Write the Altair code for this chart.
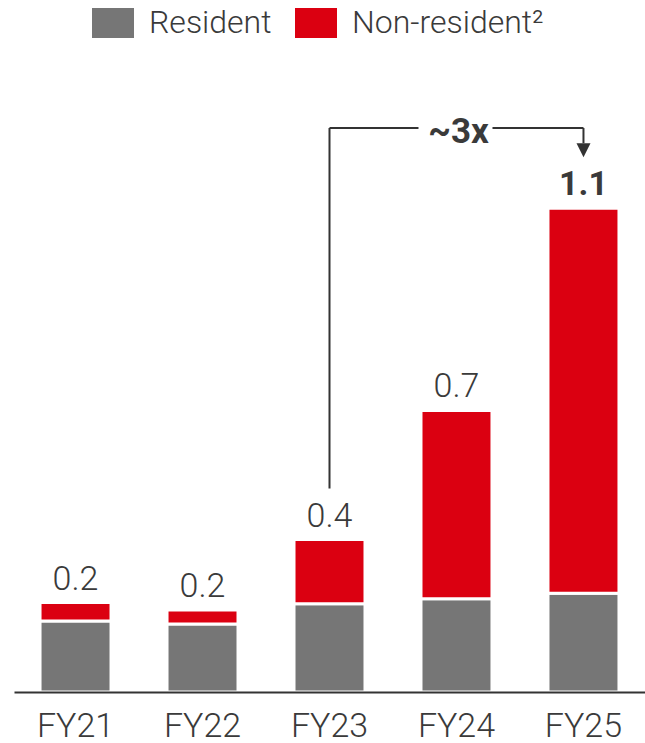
import altair as alt
import pandas as pd

# Fiscal years and the two stacked components of each bar
years = ["FY21", "FY22", "FY23", "FY24", "FY25"]
resident = [0.168, 0.161, 0.209, 0.221, 0.234]
non_resident = [0.044, 0.033, 0.152, 0.446, 0.912]
series = ["Resident", "Non-resident\u00b2"]

GREY = "#767676"
RED = "#db0011"
INK = "#3a3a3a"
LINE = "#333333"
FONT = "Roboto"

rows = []
for i, y in enumerate(years):
    rows.append({"year": y, "series": series[0], "value": resident[i], "order": 0})
    rows.append({"year": y, "series": series[1], "value": non_resident[i], "order": 1})
bars_df = pd.DataFrame(rows)

totals_df = pd.DataFrame({
    "year": years,
    "total": [r + n for r, n in zip(resident, non_resident)],
})

# Growth bracket from FY23 up and across to FY25
BRACKET_Y = 1.336
bracket_df = totals_df[totals_df["year"].isin(["FY23", "FY25"])].copy()
bracket_df["level"] = BRACKET_Y

x_enc = alt.X(
    "year:N",
    sort=years,
    scale=alt.Scale(paddingInner=0.441, paddingOuter=0.205),
    axis=alt.Axis(
        title=None, ticks=False, grid=False, labelAngle=0,
        domainColor=LINE, domainWidth=2, zindex=1,
        labelFont=FONT, labelFontWeight=300, labelFontSize=34,
        labelColor=INK, labelPadding=17,
    ),
)
y_scale = alt.Scale(domain=[0, 1.4], nice=False, zero=True)


def y_of(field):
    return alt.Y(field, scale=y_scale, axis=None)


def x_of(field):
    return alt.X(field, sort=years)


bars = alt.Chart(bars_df).mark_bar(stroke="white", strokeWidth=3).encode(
    x=x_enc,
    y=alt.Y("value:Q", stack="zero", scale=y_scale, axis=None),
    color=alt.Color(
        "series:N",
        scale=alt.Scale(domain=series, range=[GREY, RED]),
        legend=alt.Legend(
            title=None, orient="none", direction="horizontal",
            legendX=78, legendY=-99,
            symbolType="M-1,-0.72H1V0.72H-1Z", symbolSize=1764,
            symbolStrokeWidth=0, symbolOpacity=1,
            labelFont=FONT, labelFontWeight=300, labelFontSize=32,
            labelColor=INK, labelOffset=15, columnPadding=23,
            labelLimit=400, padding=0,
        ),
    ),
    order=alt.Order("order:Q"),
)

base_totals = alt.Chart(totals_df).encode(
    x=x_of("year:N"),
    y=y_of("total:Q"),
    text=alt.Text("total:Q", format=".1f"),
)
labels = base_totals.transform_filter(alt.datum.year != "FY25").mark_text(
    font=FONT, fontWeight=300, fontSize=34, color=INK,
    baseline="alphabetic", dy=-13,
)
label_last = base_totals.transform_filter(alt.datum.year == "FY25").mark_text(
    font=FONT, fontWeight="bold", fontSize=34, color=INK,
    baseline="alphabetic", dy=-13,
)

line_style = dict(color=LINE, strokeWidth=2)

left_leg = alt.Chart(bracket_df).transform_filter(alt.datum.year == "FY23").mark_rule(
    y2Offset=-51, **line_style
).encode(
    x=x_of("year:N"),
    y=y_of("level:Q"),
    y2="total:Q",
)
right_leg = alt.Chart(bracket_df).transform_filter(alt.datum.year == "FY25").mark_rule(
    y2Offset=-65, **line_style
).encode(
    x=x_of("year:N"),
    y=y_of("level:Q"),
    y2="total:Q",
)

span_df = pd.DataFrame({
    "start": ["FY23", "FY24"],
    "end": ["FY24", "FY25"],
    "level": [BRACKET_Y, BRACKET_Y],
})
span_left = alt.Chart(span_df).transform_filter(alt.datum.start == "FY23").mark_rule(
    x2Offset=-38, **line_style
).encode(
    x=x_of("start:N"),
    x2="end:N",
    y=y_of("level:Q"),
)
span_right = alt.Chart(span_df).transform_filter(alt.datum.start == "FY24").mark_rule(
    xOffset=36, **line_style
).encode(
    x=x_of("start:N"),
    x2="end:N",
    y=y_of("level:Q"),
)

arrow_head = alt.Chart(bracket_df).transform_filter(alt.datum.year == "FY25").mark_point(
    shape="M-1,-1L1,-1L0,1Z", filled=True, size=196, color=LINE,
    opacity=1, yOffset=-58, strokeWidth=0,
).encode(
    x=x_of("year:N"),
    y=y_of("total:Q"),
)

growth_df = pd.DataFrame({"year": ["FY24"], "level": [BRACKET_Y], "text": ["~3x"]})
growth_text = alt.Chart(growth_df).mark_text(
    font=FONT, fontWeight="bold", fontSize=35, color=INK,
    baseline="middle", dx=2, dy=4,
).encode(
    x=x_of("year:N"),
    y=y_of("level:Q"),
    text="text:N",
)

chart = (
    alt.layer(
        bars, labels, label_last,
        left_leg, span_left, span_right, right_leg, arrow_head, growth_text,
    )
    .properties(
        width=631, height=591,
        background="white",
        padding={"left": 14, "top": 101, "right": 0, "bottom": 51},
        autosize=alt.AutoSizeParams(type="none"),
    )
    .configure_view(strokeWidth=0, strokeOpacity=0)
)

chart.save("out.html", embed_options={"renderer": "svg", "actions": False})
